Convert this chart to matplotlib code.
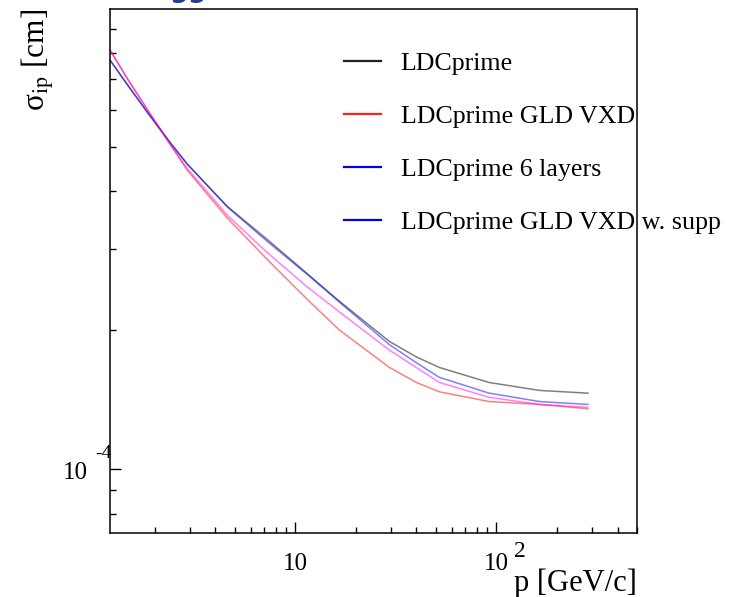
import matplotlib
matplotlib.use("Agg")
import matplotlib.pyplot as plt
from matplotlib.lines import Line2D
from matplotlib.ticker import NullFormatter, LogLocator
from matplotlib.transforms import (Bbox, TransformedBbox,
                                   blended_transform_factory, ScaledTranslation)

plt.rcParams['font.family'] = ['Liberation Serif', 'DejaVu Serif']
plt.rcParams['mathtext.fontset'] = 'stix'

# track momentum (GeV/c)
p = [1.2, 1.46, 1.84, 2.36, 2.9, 4.6, 7.3, 11.5, 16.6, 29.4, 40, 52, 92, 164, 285]
# impact-parameter resolution, in units of 1e-4 cm
sigma_ldc = [7.71, 6.83, 5.94, 5.14, 4.59, 3.71, 3.14, 2.65, 2.31, 1.89, 1.75, 1.66, 1.54, 1.48, 1.46]
sigma_gld = [8.11, 7.04, 6.02, 5.10, 4.45, 3.50, 2.84, 2.33, 2.00, 1.66, 1.54, 1.47, 1.40, 1.38, 1.35]
sigma_6lay = [7.71, 6.83, 5.94, 5.14, 4.59, 3.70, 3.11, 2.64, 2.30, 1.86, 1.70, 1.58, 1.46, 1.40, 1.38]
sigma_gld_supp = [8.11, 7.04, 6.02, 5.11, 4.49, 3.55, 2.94, 2.48, 2.19, 1.81, 1.66, 1.54, 1.43, 1.38, 1.36]

labels = ["LDCprime", "LDCprime GLD VXD", "LDCprime 6 layers",
          "LDCprime GLD VXD w. support"]
curve_colors = ["#000000", "#ff0000", "#0000ff", "#ff00ff"]
key_colors = ["#222222", "#ff2020", "#0000ee", "#0000ee"]

# tick labels: value, mantissa, exponent
xtick_vals = [10, 100]
xtick_base = ["10", "10"]
xtick_exp = ["", "2"]
ytick_vals = [1e-4]
ytick_base = ["10"]
ytick_exp = ["-4"]

fig = plt.figure(figsize=(7.40, 5.97), dpi=100)
ax = fig.add_axes([110 / 740, 1 - 533 / 597, 527 / 740, 524 / 597])

for ys, c in zip([sigma_ldc, sigma_gld, sigma_6lay, sigma_gld_supp], curve_colors):
    ax.plot(p, [v * 1e-4 for v in ys], color=c, lw=1.1, alpha=0.5)

ax.set_xscale('log')
ax.set_yscale('log')
ax.set_xlim(1.2, 500)
ax.set_ylim(7.26e-5, 9.95e-4)

ax.xaxis.set_minor_locator(LogLocator(base=10, subs=range(2, 10)))
ax.yaxis.set_minor_locator(LogLocator(base=10, subs=range(2, 10)))
for axis in (ax.xaxis, ax.yaxis):
    axis.set_major_formatter(NullFormatter())
    axis.set_minor_formatter(NullFormatter())

ax.tick_params(which='both', direction='in', top=False, right=False,
               width=1.0, color='black')
ax.tick_params(which='major', length=8)
ax.tick_params(which='minor', length=4.5)
for s in ax.spines.values():
    s.set_linewidth(1.1)

# ROOT-style power-of-ten labels
xtr = blended_transform_factory(ax.transData, ax.transAxes)
for v, b, e in zip(xtick_vals, xtick_base, xtick_exp):
    ax.text(v, -0.0706, b, transform=xtr, ha='center', va='baseline',
            fontsize=18, clip_on=False)
    if e:
        ax.text(v, -0.0706, e,
                transform=xtr + ScaledTranslation(0.18, 0.13, fig.dpi_scale_trans),
                ha='left', va='baseline', fontsize=17, clip_on=False)

ytr = blended_transform_factory(ax.transAxes, ax.transData)
for v, b, e in zip(ytick_vals, ytick_base, ytick_exp):
    ax.text(0, v, b,
            transform=ytr + ScaledTranslation(-0.22, -0.10, fig.dpi_scale_trans),
            ha='right', va='baseline', fontsize=18, clip_on=False)
    ax.text(0, v, e,
            transform=ytr + ScaledTranslation(-0.15, 0.11, fig.dpi_scale_trans),
            ha='left', va='baseline', fontsize=14, clip_on=False)

ax.set_xlabel('p [GeV/c]', fontsize=22, loc='right')
ax.xaxis.set_label_coords(1.0, -0.068)
ax.set_ylabel('σ$_{\\rm ip}$ [cm]', fontsize=22.5, loc='top')
ax.yaxis.set_label_coords(-0.103, 1.0)

handles = [Line2D([], [], color=c, lw=1.6) for c in key_colors]
leg = fig.legend(handles, labels, loc='upper left',
                 bbox_to_anchor=(344 / 740, 1 - 52 / 597),
                 frameon=False, fontsize=18.7, handlelength=1.44,
                 handletextpad=0.74, labelspacing=1.15,
                 borderpad=0, borderaxespad=0)
clip = TransformedBbox(Bbox.from_extents(0, 0, 722 / 740, 1), fig.transFigure)
for t in leg.get_texts():
    t.set_clip_box(clip)
    t.set_clip_on(True)

# descenders of the slide heading above the plot
fig.text(170 / 740, 1 + 3 / 597, "gg", color="#283c8c", fontsize=19,
         fontweight='bold', family='DejaVu Sans', ha='left', va='baseline')

fig.savefig("out.png", dpi=100)
